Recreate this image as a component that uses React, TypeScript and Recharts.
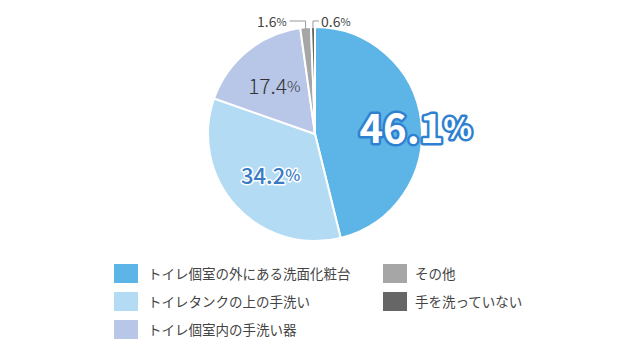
import React from "react";
import { PieChart, Pie, Cell, Legend } from "recharts";

const categories = [
  "トイレ個室の外にある洗面化粧台",
  "トイレタンクの上の手洗い",
  "トイレ個室内の手洗い器",
  "その他",
  "手を洗っていない",
];
const values = [46.1, 34.2, 17.4, 1.6, 0.6];
const COLORS = ["#5cb5e6", "#b3dcf4", "#b8c7e7", "#a6a6a6", "#666666"];

const data = categories.map((name, i) => ({ name, value: values[i] }));

const FONT = "'Noto Sans CJK JP', 'Noto Sans', sans-serif";
const RAD = Math.PI / 180;

function renderLabel(props: any) {
  const { cx, cy, midAngle, outerRadius, index, value } = props;
  const cos = Math.cos(-midAngle * RAD);
  const sin = Math.sin(-midAngle * RAD);
  const num = value.toFixed(1);

  if (index === 0) {
    const r = outerRadius * 0.94;
    return (
      <text
        x={cx + r * cos + 1}
        y={cy + r * sin + 4}
        textAnchor="middle"
        dominantBaseline="central"
        fill="#ffffff"
        stroke="#2f80d0"
        strokeWidth={5}
        strokeLinejoin="round"
        paintOrder="stroke"
        fontFamily={FONT}
        fontWeight={700}
        fontSize={40}
      >
        {num}
        <tspan fontSize={30}>%</tspan>
      </text>
    );
  }
  if (index === 1) {
    const r = outerRadius * 0.56;
    return (
      <text
        x={cx + r * cos}
        y={cy + r * sin}
        textAnchor="middle"
        dominantBaseline="central"
        fill="#3a7cc4"
        stroke="#ffffff"
        strokeWidth={3}
        strokeLinejoin="round"
        paintOrder="stroke"
        fontFamily={FONT}
        fontWeight={500}
        fontSize={22}
      >
        {num}
        <tspan fontSize={16}>%</tspan>
      </text>
    );
  }
  if (index === 2) {
    const r = outerRadius * 0.6;
    return (
      <text
        x={cx + r * cos}
        y={cy + r * sin + 1}
        textAnchor="middle"
        dominantBaseline="central"
        fill="#333333"
        fontFamily={FONT}
        fontWeight={300}
        fontSize={21}
      >
        {num}
        <tspan fontSize={15}>%</tspan>
      </text>
    );
  }
  // small slices with leader lines
  const ex = cx + outerRadius * cos;
  const ey = cy + outerRadius * sin + 2;
  const ly = cy - outerRadius - 6;
  const left = index === 3;
  const hx = left ? ex - 16 : ex + 6;
  return (
    <g>
      <polyline
        points={`${ex},${ey} ${ex},${ly} ${hx},${ly}`}
        fill="none"
        stroke="#999999"
        strokeWidth={1}
      />
      <text
        x={left ? hx - 3 : hx + 2}
        y={ly}
        textAnchor={left ? "end" : "start"}
        dominantBaseline="central"
        fill="#444444"
        fontFamily={FONT}
        fontSize={14}
      >
        {num}
        <tspan fontSize={11}>%</tspan>
      </text>
    </g>
  );
}

function LegendContent() {
  const cols = [
    [0, 1, 2],
    [3, 4],
  ];
  return (
    <div style={{ display: "flex", fontFamily: FONT }}>
      {cols.map((col, ci) => (
        <div key={ci} style={{ width: ci === 0 ? 269 : 200 }}>
          {col.map((i) => (
            <div
              key={i}
              style={{ display: "flex", alignItems: "center", height: 28 }}
            >
              <div
                style={{
                  width: 24,
                  height: 19,
                  background: COLORS[i],
                  marginRight: ci === 0 ? 10 : 8,
                }}
              />
              <span style={{ fontSize: 13.5, color: "#444444" }}>
                {categories[i]}
              </span>
            </div>
          ))}
        </div>
      ))}
    </div>
  );
}

export default function App() {
  return (
    <div
      style={{
        position: "absolute",
        left: 0,
        top: 0,
        width: 640,
        height: 360,
        background: "#ffffff",
      }}
    >
      <PieChart
        width={640}
        height={360}
        margin={{ top: 0, right: 0, bottom: 0, left: 0 }}
      >
        <Pie
          data={data}
          dataKey="value"
          nameKey="name"
          cx={315}
          cy={134}
          outerRadius={107}
          startAngle={90}
          endAngle={-270}
          stroke="#ffffff"
          strokeWidth={2}
          label={renderLabel}
          labelLine={false}
          isAnimationActive={false}
        >
          {data.map((d, i) => (
            <Cell key={d.name} fill={COLORS[i]} />
          ))}
        </Pie>
        <Legend
          content={<LegendContent />}
          wrapperStyle={{ top: 259, left: 114, width: 500 }}
        />
      </PieChart>
    </div>
  );
}
